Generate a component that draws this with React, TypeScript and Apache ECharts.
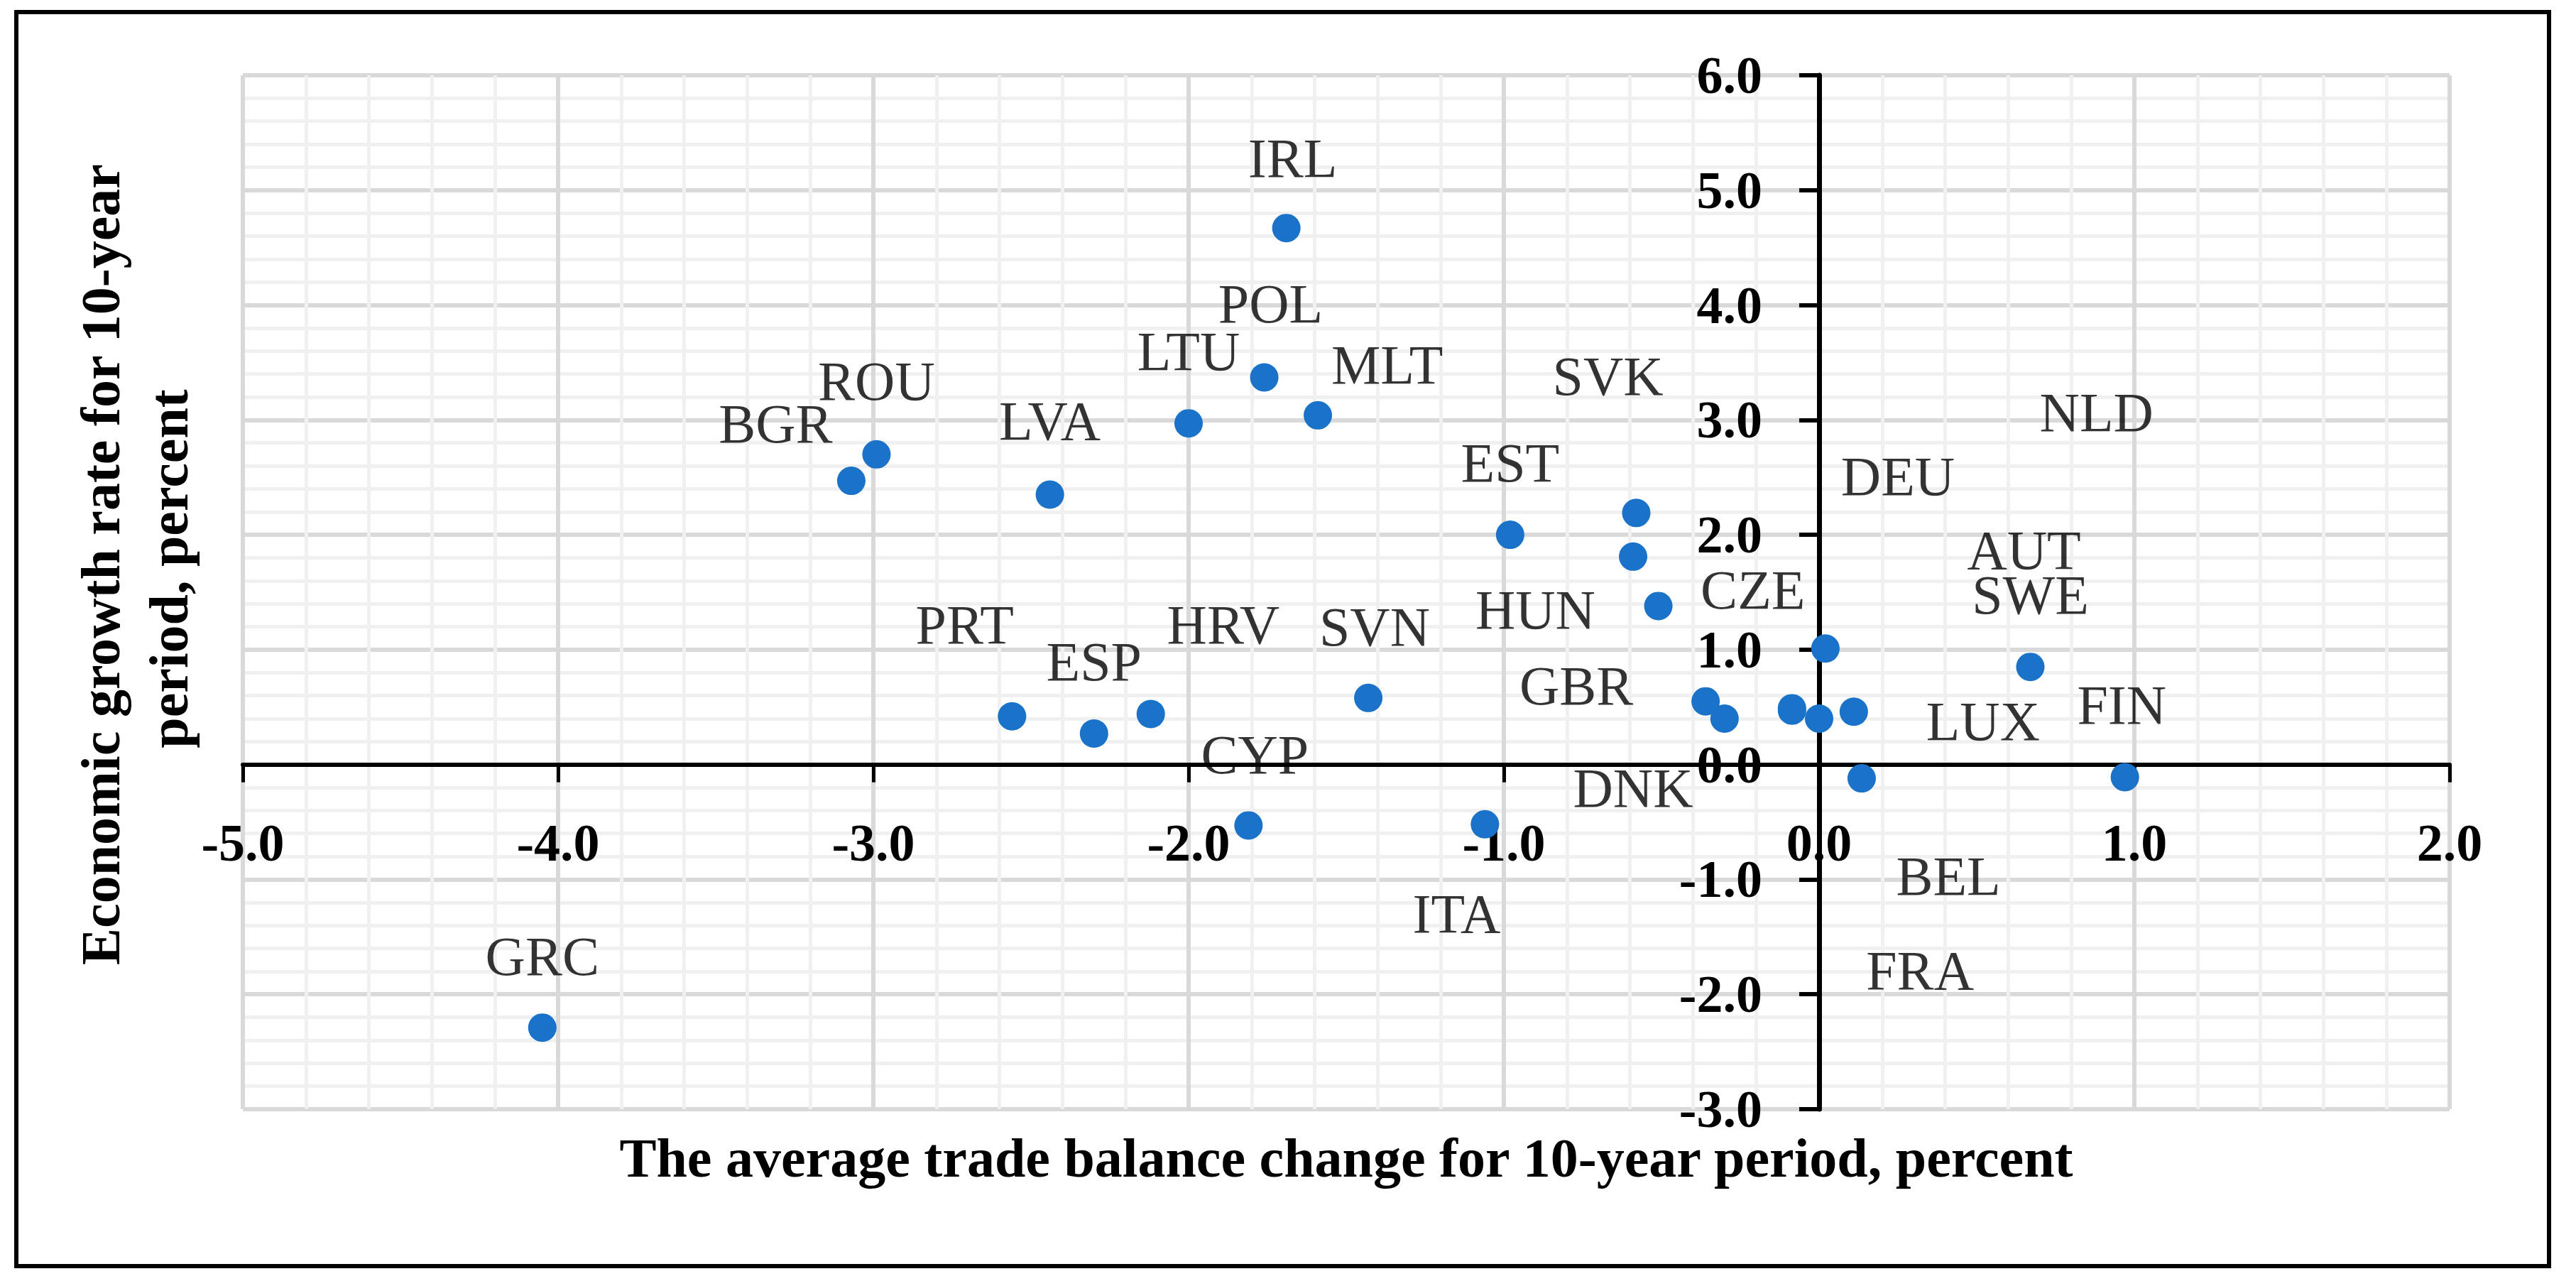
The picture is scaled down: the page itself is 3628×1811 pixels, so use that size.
import React, { useEffect, useRef } from "react";
import * as echarts from "echarts";

// ---------- data ----------
const countries = [
  "IRL", "POL", "LTU", "MLT", "ROU", "BGR", "LVA", "EST", "SVK", "HUN",
  "CZE", "PRT", "ESP", "HRV", "SVN", "CYP", "ITA", "GRC", "GBR", "DNK",
  "DEU", "SWE", "NLD", "AUT", "FRA", "LUX", "BEL", "FIN",
];
// average trade balance change for 10-year period, percent
const tradeBalance = [
  -1.69, -1.76, -2.0, -1.59, -2.99, -3.07, -2.44, -0.98, -0.58, -0.59,
  -0.51, -2.56, -2.3, -2.12, -1.43, -1.81, -1.06, -4.05, -0.36, -0.3,
  0.02, 0.67, -0.086, -0.086, 0.0, 0.11, 0.135, 0.97,
];
// economic growth rate for 10-year period, percent
const growthRate = [
  4.67, 3.37, 2.97, 3.04, 2.7, 2.47, 2.35, 2.0, 2.19, 1.81,
  1.38, 0.42, 0.27, 0.44, 0.58, -0.53, -0.52, -2.29, 0.55, 0.4,
  1.01, 0.85, 0.49, 0.47, 0.4, 0.46, -0.12, -0.11,
];
// where each country's label sits, in data units
const labelX = [
  -1.67, -1.74, -2.0, -1.37, -2.99, -3.31, -2.44, -0.98, -0.67, -0.9,
  -0.21, -2.71, -2.3, -1.89, -1.41, -1.79, -1.15, -4.05, -0.77, -0.59,
  0.25, 0.67, 0.88, 0.65, 0.32, 0.52, 0.41, 0.96,
];
const labelY = [
  5.28, 4.01, 3.6, 3.48, 3.34, 2.97, 2.99, 2.63, 3.38, 1.35,
  1.52, 1.22, 0.9, 1.22, 1.2, 0.09, -1.3, -1.67, 0.69, -0.2,
  2.51, 1.48, 3.07, 1.87, -1.79, 0.38, -0.97, 0.52,
];

const X_MIN = -5;
const X_MAX = 2;
const Y_MIN = -3;
const Y_MAX = 6;
const TICK_STEP = 1;

const xTitle = "The average trade balance change for 10-year period, percent";
const yTitleLines = ["Economic growth rate for 10-year", "period, percent"];

// ---------- styles ----------
const FONT = '"Liberation Serif", "Times New Roman", serif';
const GRID = { left: 342, top: 106, width: 3108, height: 1456 };
const DOT = "#1a73c8";

export default function App() {
  const ref = useRef<HTMLDivElement>(null);

  useEffect(() => {
    if (!ref.current) return;
    const chart = echarts.init(ref.current, undefined, { renderer: "svg" });

    const gridAxisX = {
      gridIndex: 0,
      type: "value",
      min: X_MIN,
      max: X_MAX,
      interval: TICK_STEP,
      z: 0,
      axisLine: { show: false },
      axisTick: { show: false },
      axisLabel: { show: false },
      splitLine: { show: true, lineStyle: { color: "#d9d9d9", width: 6 } },
      minorTick: { show: false, splitNumber: 5 },
      minorSplitLine: { show: true, lineStyle: { color: "#f0f0f0", width: 5 } },
    };
    const gridAxisY = { ...gridAxisX, min: Y_MIN, max: Y_MAX };

    const fmt = (v: number) => v.toFixed(1);

    // place the visible axes where the other axis crosses zero
    const xAxisOffset = -((0 - Y_MIN) / (Y_MAX - Y_MIN)) * GRID.height;
    const yAxisOffset = -((0 - X_MIN) / (X_MAX - X_MIN)) * GRID.width;

    const tickLabel = {
      fontSize: 74,
      fontWeight: "bold",
      fontFamily: FONT,
      color: "#000",
      formatter: fmt,
    };

    const option: any = {
      animation: false,
      backgroundColor: "#ffffff",
      grid: [{ ...GRID }, { ...GRID }],
      xAxis: [
        gridAxisX,
        {
          gridIndex: 1,
          type: "value",
          position: "bottom",
          offset: xAxisOffset,
          min: X_MIN,
          max: X_MAX,
          interval: TICK_STEP,
          z: 1,
          axisLine: { show: true, onZero: false, lineStyle: { color: "#000", width: 6 } },
          axisTick: { show: true, inside: false, length: 25, lineStyle: { color: "#000", width: 5 } },
          axisLabel: { ...tickLabel, margin: 73 },
          splitLine: { show: false },
        },
      ],
      yAxis: [
        gridAxisY,
        {
          gridIndex: 1,
          type: "value",
          position: "left",
          offset: yAxisOffset,
          min: Y_MIN,
          max: Y_MAX,
          interval: TICK_STEP,
          z: 1,
          axisLine: { show: true, onZero: false, lineStyle: { color: "#000", width: 7 } },
          axisTick: { show: true, inside: false, length: 28, lineStyle: { color: "#000", width: 6 } },
          axisLabel: { ...tickLabel, margin: 80 },
          splitLine: { show: false },
        },
      ],
      series: [
        {
          type: "scatter",
          xAxisIndex: 1,
          yAxisIndex: 1,
          symbol: "circle",
          symbolSize: 40,
          itemStyle: { color: DOT, opacity: 1 },
          z: 2,
          data: countries.map((c, i) => ({ name: c, value: [tradeBalance[i], growthRate[i]] })),
        },
        {
          type: "scatter",
          xAxisIndex: 1,
          yAxisIndex: 1,
          symbol: "circle",
          symbolSize: 1,
          itemStyle: { color: "rgba(0,0,0,0)" },
          silent: true,
          z: 3,
          label: {
            show: true,
            position: "inside",
            formatter: "{b}",
            fontSize: 78,
            fontFamily: FONT,
            color: "#000",
          },
          data: countries.map((c, i) => ({ name: c, value: [labelX[i], labelY[i]] })),
        },
      ],
      graphic: [
        {
          type: "rect",
          shape: { x: 23, y: 17, width: 3567, height: 1766 },
          style: { fill: "none", stroke: "#000", lineWidth: 6 },
          z: 10,
        },
        {
          type: "text",
          x: 1896,
          y: 1630,
          style: {
            text: xTitle,
            font: `bold 78px ${FONT}`,
            fill: "#000",
            align: "center",
            verticalAlign: "middle",
          },
          z: 10,
        },
        {
          type: "text",
          x: 141,
          y: 795,
          rotation: Math.PI / 2,
          style: {
            text: yTitleLines[0],
            font: `bold 78px ${FONT}`,
            fill: "#000",
            align: "center",
            verticalAlign: "middle",
          },
          z: 10,
        },
        {
          type: "text",
          x: 237,
          y: 801,
          rotation: Math.PI / 2,
          style: {
            text: yTitleLines[1],
            font: `bold 78px ${FONT}`,
            fill: "#000",
            align: "center",
            verticalAlign: "middle",
          },
          z: 10,
        },
      ],
    };

    chart.setOption(option);
    return () => chart.dispose();
  }, []);

  return (
    <div
      ref={ref}
      style={{ position: "fixed", left: 0, top: 0, width: 3628, height: 1811, background: "#fff" }}
    />
  );
}
